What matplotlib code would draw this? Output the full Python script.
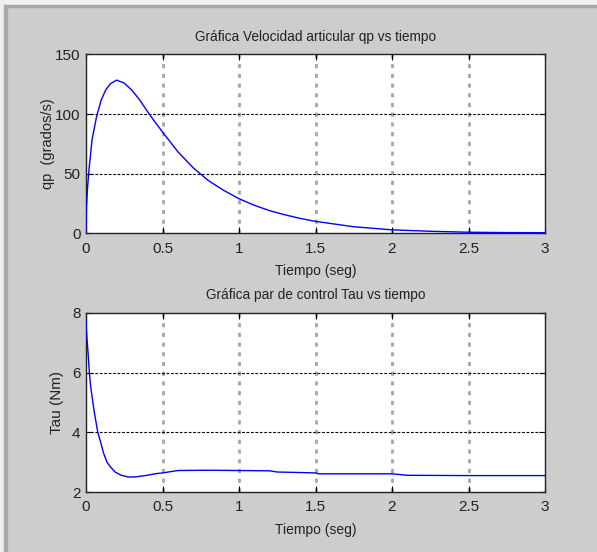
import matplotlib
matplotlib.use("Agg")
import matplotlib.pyplot as plt
from matplotlib.patches import Rectangle

# Joint velocity qp (deg/s) versus time
t_qp = [0.0, 0.003, 0.01, 0.02, 0.04, 0.07, 0.1, 0.13, 0.16, 0.2, 0.25, 0.3,
        0.35, 0.4, 0.45, 0.5, 0.6, 0.7, 0.8, 0.9, 1.0, 1.1, 1.2, 1.3,
        1.4, 1.5, 1.75, 2.0, 2.25, 2.5, 2.75, 3.0]
qp = [0.0, 22.0, 38.0, 54.0, 79.0, 98.5, 112.0, 120.5, 125.5, 128.5, 126.0,
      120.0, 112.0, 102.5, 93.5, 85.0, 68.5, 55.0, 44.2, 36.0, 29.0,
      23.5, 19.0, 15.5, 12.5, 10.0, 5.5, 2.9, 1.7, 0.9, 0.6, 0.5]

# Control torque Tau (Nm) versus time
t_tau = [0.0, 0.003, 0.015, 0.022, 0.031, 0.055, 0.077, 0.093, 0.115, 0.137,
         0.16, 0.19, 0.23, 0.28, 0.33, 0.4, 0.45, 0.5, 0.55, 0.6, 0.8, 1.0,
         1.2, 1.25, 1.5, 1.52, 2.0, 2.1, 2.5, 3.0]
tau = [7.8, 7.4, 6.55, 6.0, 5.5, 4.65, 4.0, 3.72, 3.3, 3.0, 2.84, 2.67, 2.56,
       2.5, 2.51, 2.56, 2.61, 2.64, 2.68, 2.72, 2.73, 2.72, 2.71, 2.67, 2.64,
       2.61, 2.61, 2.56, 2.55, 2.55]

x_ticks = [0, 0.5, 1, 1.5, 2, 2.5, 3]
x_ticklabels = ["0", "0.5", "1", "1.5", "2", "2.5", "3"]
qp_ticks = [0, 50, 100, 150]
tau_ticks = [2, 4, 6, 8]

W, H = 597, 552
fig = plt.figure(figsize=(W / 100, H / 100), dpi=100, facecolor="#cdcdcd")

# window frame strips
def px_rect(x, y, w, h, color):
    fig.patches.append(Rectangle((x / W, 1 - (y + h) / H), w / W, h / H,
                                 transform=fig.transFigure, color=color,
                                 zorder=-1))

px_rect(0, 0, W, 5, "#f2f2f2")
px_rect(0, 5, W, 2, "#a8a8a8")
px_rect(0, 0, 4, H, "#eeeeee")
px_rect(4, 5, 3, H, "#a8a8a8")

narrow = ["Liberation Sans Narrow", "Liberation Sans", "DejaVu Sans"]
wide = ["Liberation Sans", "DejaVu Sans"]
txt_color = "#222222"


def style_axes(ax, yticks, ylim):
    ax.set_xlim(0, 3)
    ax.set_ylim(*ylim)
    ax.set_xticks(x_ticks)
    ax.set_xticklabels(x_ticklabels)
    ax.set_yticks(yticks)
    ax.set_yticklabels([str(v) for v in yticks])
    for lab in ax.get_xticklabels() + ax.get_yticklabels():
        lab.set_fontfamily(narrow)
        lab.set_fontsize(11)
        lab.set_color(txt_color)
    ax.tick_params(direction="in", length=4, width=0.8, top=True, right=True,
                   color="black")
    ax.tick_params(axis="x", pad=6)
    ax.tick_params(axis="y", pad=4)
    for sp in ax.spines.values():
        sp.set_linewidth(1.0)
        sp.set_color("#222222")
    for xv in x_ticks[1:-1]:
        ax.axvline(xv, color="#a6a6a6", lw=2.0, ls=(0, (1.5, 2.0)), zorder=1)
    for yv in yticks[1:-1]:
        ax.axhline(yv, color="black", lw=0.8, ls=(0, (2.5, 1.5)), zorder=1)


ax1 = fig.add_axes([86 / W, 1 - 233.3 / H, 459 / W, 178.8 / H])
ax1.plot(t_qp, qp, color="#0000ff", lw=1.0, zorder=3)
style_axes(ax1, qp_ticks, (0, 150))
ax1.set_title("Gráfica Velocidad articular qp vs tiempo", fontfamily=narrow,
              fontsize=9.8, color=txt_color, pad=10)
ax1.set_xlabel("Tiempo (seg)", fontfamily=narrow, fontsize=10,
               color=txt_color, labelpad=6)
ax1.set_ylabel("qp  (grados/s)", fontfamily=wide, fontsize=10.5,
               color=txt_color, labelpad=0)

ax2 = fig.add_axes([86 / W, 1 - 492 / H, 459 / W, 179 / H])
ax2.plot(t_tau, tau, color="#0000ff", lw=1.0, zorder=3)
style_axes(ax2, tau_ticks, (2, 8))
ax2.set_title("Gráfica par de control Tau vs tiempo", fontfamily=narrow,
              fontsize=9.8, color=txt_color, pad=10)
ax2.set_xlabel("Tiempo (seg)", fontfamily=narrow, fontsize=10,
               color=txt_color, labelpad=6)
ax2.set_ylabel("Tau (Nm)", fontfamily=wide, fontsize=11,
               color=txt_color, labelpad=6)

fig.savefig("out.png", dpi=100, facecolor=fig.get_facecolor())
